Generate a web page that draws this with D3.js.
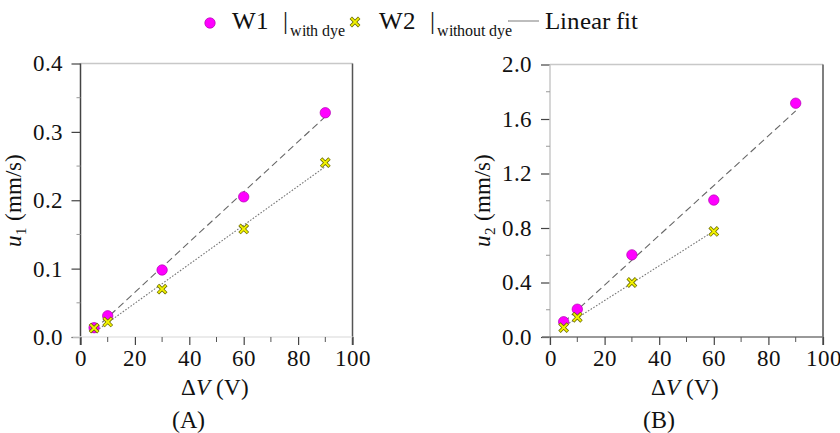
<!DOCTYPE html>
<html>
<head>
<meta charset="utf-8">
<script src="https://cdn.jsdelivr.net/npm/d3@7"></script>
<style>
  @font-face { font-family: "ChartSerif"; font-style: normal; font-weight: 400;
    src: local("Liberation Serif"), local("LiberationSerif"), local("Tinos"), local("Times New Roman"); }
  @font-face { font-family: "ChartSerif"; font-style: italic; font-weight: 400;
    src: local("Liberation Serif Italic"), local("LiberationSerif-Italic"), local("Tinos Italic"); }
</style>
</head>
<body style="margin:0;padding:0;background:#fff">
<svg id="chart" width="840" height="433"></svg>
<script>
// Applied voltage (V)
const voltageA = [5, 10, 30, 60, 90];
const voltageB1 = [5, 10, 30, 60, 90];
const voltageB2 = [5, 10, 30, 60];

// Panel A: u1 (mm/s)
const u1WithDye = [0.0136, 0.031, 0.098, 0.205, 0.328];
const u1WithoutDye = [0.013, 0.022, 0.070, 0.158, 0.255];

// Panel B: u2 (mm/s)
const u2WithDye = [0.112, 0.204, 0.603, 1.005, 1.716];
const u2WithoutDye = [0.069, 0.145, 0.400, 0.775];

const xTicks = [0, 20, 40, 60, 80, 100];
const xMinorTicks = [10, 30, 50, 70, 90];
const yTicksA = [0, 0.1, 0.2, 0.3, 0.4];
const yMinorA = [0.05, 0.15, 0.25, 0.35];
const yTicksB = [0, 0.4, 0.8, 1.2, 1.6, 2.0];
const yMinorB = [0.2, 0.6, 1.0, 1.4, 1.8];

const FONT = "ChartSerif, 'Liberation Serif', Tinos, 'Times New Roman', serif";
const svg = d3.select("#chart");

function setFont(sel, size) {
  return sel.style("font-family", FONT).style("font-size", size + "px").style("fill", "#111");
}

// Least-squares line through the measured points
function linearFit(xs, ys) {
  const mx = d3.mean(xs), my = d3.mean(ys);
  let sxy = 0, sxx = 0;
  xs.forEach((x, i) => { sxy += (x - mx) * (ys[i] - my); sxx += (x - mx) ** 2; });
  const slope = sxy / sxx;
  return { slope, intercept: my - slope * mx };
}

function crossPath(cx, cy, s) {
  return `M${cx - s},${cy - s}L${cx + s},${cy + s}M${cx - s},${cy + s}L${cx + s},${cy - s}`;
}

function drawCross(g, cx, cy) {
  g.append("path").attr("d", crossPath(cx, cy, 4.2))
    .attr("stroke", "#6b6b00").attr("stroke-width", 3.4).attr("fill", "none");
  g.append("path").attr("d", crossPath(cx, cy, 3.8))
    .attr("stroke", "#f2f200").attr("stroke-width", 1.9).attr("fill", "none");
}

function drawCircle(g, cx, cy) {
  g.append("circle").attr("cx", cx).attr("cy", cy).attr("r", 5.2)
    .attr("fill", "#ff00ff").attr("stroke", "#b000b0").attr("stroke-width", 0.7);
}

function txt(g, x, y, size) {
  return setFont(g.append("text").attr("x", x).attr("y", y), size);
}

function panel(opts) {
  const { left, right, top, bottom, yMax, yTicks, yMinor, yFmt,
          s1x, s1y, s2x, s2y, leftColor, bottomColor, subscript, letter } = opts;
  const x = d3.scaleLinear().domain([0, 100]).range([left, right]);
  const y = d3.scaleLinear().domain([0, yMax]).range([bottom, top]);
  const g = svg.append("g");

  // frame: light top, dark right
  g.append("line").attr("x1", left).attr("x2", right).attr("y1", top).attr("y2", top)
    .attr("stroke", "#c8c8c8").attr("stroke-width", 1.5);
  g.append("line").attr("x1", right).attr("x2", right).attr("y1", top).attr("y2", bottom + 8)
    .attr("stroke", "#555").attr("stroke-width", 1.5);

  // y axis
  const yAxis = d3.axisLeft(y).tickValues(yTicks).tickSize(9).tickPadding(9).tickFormat(yFmt);
  const ya = g.append("g").attr("transform", `translate(${left},0)`).call(yAxis);
  ya.attr("font-family", null).attr("font-size", null);
  ya.select(".domain").remove();
  ya.selectAll(".tick line").attr("stroke", "#444").attr("stroke-width", 1.2);
  setFont(ya.selectAll(".tick text"), 23);
  g.append("line").attr("x1", left).attr("x2", left).attr("y1", top).attr("y2", bottom + 8)
    .attr("stroke", leftColor).attr("stroke-width", 1.5);
  g.selectAll(".yminor").data(yMinor).enter().append("line")
    .attr("x1", left - 4).attr("x2", left).attr("y1", d => y(d)).attr("y2", d => y(d))
    .attr("stroke", "#999").attr("stroke-width", 1);

  // x axis
  g.append("line").attr("x1", left - 8).attr("x2", right).attr("y1", bottom).attr("y2", bottom)
    .attr("stroke", bottomColor).attr("stroke-width", 1.3);
  const xAxis = d3.axisBottom(x).tickValues(xTicks).tickSize(8).tickPadding(5).tickFormat(d3.format("d"));
  const xa = g.append("g").attr("transform", `translate(0,${bottom})`).call(xAxis);
  xa.attr("font-family", null).attr("font-size", null);
  xa.select(".domain").remove();
  xa.selectAll(".tick line").attr("stroke", "#444").attr("stroke-width", 1.2);
  setFont(xa.selectAll(".tick text"), 23);
  g.selectAll(".xminor").data(xMinorTicks).enter().append("line")
    .attr("x1", d => x(d)).attr("x2", d => x(d)).attr("y1", bottom).attr("y2", bottom + 5)
    .attr("stroke", "#555").attr("stroke-width", 1);

  // fit lines
  const f1 = linearFit(s1x, s1y), f2 = linearFit(s2x, s2y);
  const x1a = d3.min(s1x), x1b = d3.max(s1x), x2a = d3.min(s2x), x2b = d3.max(s2x);
  g.append("line").attr("x1", x(x1a)).attr("y1", y(f1.intercept + f1.slope * x1a))
    .attr("x2", x(x1b)).attr("y2", y(f1.intercept + f1.slope * x1b))
    .attr("stroke", "#666").attr("stroke-width", 1.1).attr("stroke-dasharray", "7,4");
  g.append("line").attr("x1", x(x2a)).attr("y1", y(f2.intercept + f2.slope * x2a))
    .attr("x2", x(x2b)).attr("y2", y(f2.intercept + f2.slope * x2b))
    .attr("stroke", "#777").attr("stroke-width", 1.1).attr("stroke-dasharray", "1.6,1.6");

  // markers
  s1x.forEach((v, i) => drawCircle(g, x(v), y(s1y[i])));
  s2x.forEach((v, i) => drawCross(g, x(v), y(s2y[i])));

  // axis titles
  const xt = txt(g, x(50) - 2, 395, 23).attr("text-anchor", "middle");
  xt.append("tspan").text("Δ");
  xt.append("tspan").style("font-style", "italic").text("V");
  xt.append("tspan").text(" (V)");

  txt(g, x(50) - 28, 428, 24).attr("text-anchor", "middle").text(`(${letter})`);

  const yt = txt(g, 0, 0, 23)
    .attr("transform", `translate(${left - 60},${(top + bottom) / 2}) rotate(-90)`)
    .attr("text-anchor", "middle");
  yt.append("tspan").style("font-style", "italic").text("u");
  yt.append("tspan").attr("dy", 5).style("font-size", "15px").text(subscript);
  yt.append("tspan").attr("dy", -5).text(" (mm/s)");
}

panel({
  left: 80.5, right: 352.5, top: 63.5, bottom: 337, yMax: 0.4,
  yTicks: yTicksA, yMinor: yMinorA, yFmt: d3.format(".1f"),
  s1x: voltageA, s1y: u1WithDye, s2x: voltageA, s2y: u1WithoutDye,
  leftColor: "#444", bottomColor: "#e4e4e4", subscript: "1", letter: "A"
});

panel({
  left: 550, right: 823, top: 64.5, bottom: 337, yMax: 2.0,
  yTicks: yTicksB, yMinor: yMinorB, yFmt: d3.format(".1f"),
  s1x: voltageB1, s1y: u2WithDye, s2x: voltageB2, s2y: u2WithoutDye,
  leftColor: "#c8c8c8", bottomColor: "#777", subscript: "2", letter: "B"
});

// legend
const lg = svg.append("g");
drawCircle(lg, 210, 23);
txt(lg, 232, 29, 25).text("W1");
txt(lg, 283, 29, 25).text("|");
txt(lg, 290, 36, 16).text("with dye");
drawCross(lg, 355, 22);
txt(lg, 379, 29, 25).text("W2");
txt(lg, 430, 29, 25).text("|");
txt(lg, 437, 36, 16).text("without dye");
lg.append("line").attr("x1", 508).attr("x2", 539).attr("y1", 21).attr("y2", 21)
  .attr("stroke", "#999").attr("stroke-width", 1.3);
txt(lg, 545, 29, 25).text("Linear fit");
</script>
</body>
</html>
